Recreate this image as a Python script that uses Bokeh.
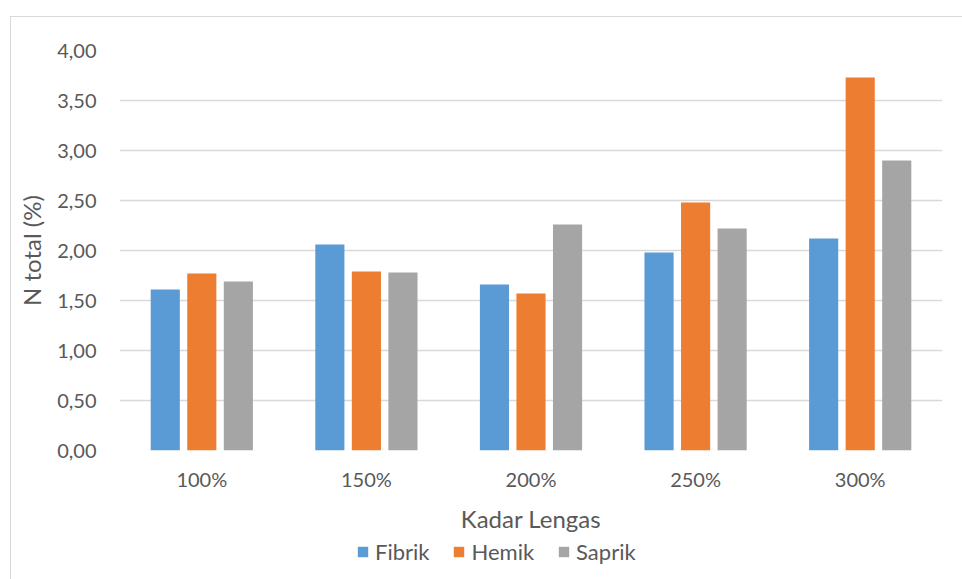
from bokeh.plotting import figure
from bokeh.layouts import column
from bokeh.models import (FactorRange, Range1d, FixedTicker, Legend, LegendItem,
                          ColumnDataSource)
from bokeh.transform import dodge
from bokeh.embed import file_html
from bokeh.resources import INLINE

# Moisture content levels (Kadar Lengas) and total N (%) per peat type
categories = ["100%", "150%", "200%", "250%", "300%"]
fibrik = [1.61, 2.06, 1.66, 1.98, 2.12]
hemik = [1.77, 1.79, 1.57, 2.48, 3.73]
saprik = [1.69, 1.78, 2.26, 2.22, 2.90]

y_ticks = [0.0, 0.5, 1.0, 1.5, 2.0, 2.5, 3.0, 3.5, 4.0]
y_tick_labels = ["0,00", "0,50", "1,00", "1,50", "2,00", "2,50", "3,00", "3,50", "4,00"]

FONT = "Lato"
TEXT = "#595959"
GRID = "#d9d9d9"

src = ColumnDataSource(dict(cat=categories, fibrik=fibrik, hemik=hemik, saprik=saprik))

p = figure(width=952, height=519, x_range=FactorRange(*categories, range_padding=0),
           y_range=Range1d(0, 4), output_backend="svg", toolbar_location=None,
           min_border_left=108, min_border_right=21, min_border_top=33,
           min_border_bottom=86)
p.outline_line_color = None
p.background_fill_color = "white"
p.border_fill_color = "white"

w = 0.177
off = 0.222
series = [("fibrik", "Fibrik", "#5b9bd5", -off),
          ("hemik", "Hemik", "#ed7d31", 0.0),
          ("saprik", "Saprik", "#a5a5a5", off)]
for col, name, color, dx in series:
    p.vbar(x=dodge("cat", dx, range=p.x_range), top=col, width=w, source=src,
           fill_color=color, line_color=None)

# y axis: gridlines only, comma decimals
p.yaxis.ticker = FixedTicker(ticks=y_ticks)
p.yaxis.major_label_overrides = {t: s for t, s in zip(y_ticks, y_tick_labels)}
p.yaxis.axis_line_color = None
p.yaxis.major_tick_line_color = None
p.yaxis.minor_tick_line_color = None
p.yaxis.major_label_text_font = FONT
p.yaxis.major_label_text_font_size = "20px"
p.yaxis.major_label_text_color = TEXT
p.yaxis.major_label_standoff = 17
p.yaxis.axis_label = "N total (%)"
p.yaxis.axis_label_text_font = FONT
p.yaxis.axis_label_text_font_size = "24px"
p.yaxis.axis_label_text_font_style = "normal"
p.yaxis.axis_label_text_color = TEXT
p.yaxis.axis_label_standoff = 8
p.ygrid.grid_line_color = GRID
p.ygrid.grid_line_width = 1.5
p.ygrid.ticker = FixedTicker(ticks=y_ticks)

# x axis
p.xaxis.axis_line_color = None
p.xaxis.major_tick_line_color = None
p.xaxis.minor_tick_line_color = None
p.xaxis.major_label_text_font = FONT
p.xaxis.major_label_text_font_size = "20px"
p.xaxis.major_label_text_color = TEXT
p.xaxis.major_label_standoff = 10
p.xaxis.axis_label = "Kadar Lengas"
p.xaxis.axis_label_text_font = FONT
p.xaxis.axis_label_text_font_size = "24px"
p.xaxis.axis_label_text_font_style = "normal"
p.xaxis.axis_label_text_color = TEXT
p.xaxis.axis_label_standoff = 10
p.xgrid.grid_line_color = None

# legend strip under the chart; its frame lines up with the chart frame above
lg = figure(width=952, height=43, output_backend="svg", toolbar_location=None,
            x_axis_type=None, y_axis_type=None, min_border=0,
            x_range=Range1d(0, 1), y_range=Range1d(0, 1))
lg.outline_line_color = None
lg.grid.grid_line_color = None
items = []
for col, name, color, dx in series:
    # swatch renderers kept outside the visible range
    r = lg.vbar(x=[5], top=[0], width=0.1, fill_color=color, line_color=None)
    items.append(LegendItem(label=name, renderers=[r]))
legend = Legend(items=items, orientation="horizontal", location=(237, 14),
                label_text_font=FONT, label_text_font_size="22px",
                label_text_color=TEXT, glyph_width=13, glyph_height=13,
                spacing=23, label_standoff=6, padding=0, margin=0,
                border_line_color=None, background_fill_alpha=0)
lg.add_layout(legend)

layout = column(p, lg, spacing=0)
layout.margin = (16, 0, 0, 10)
layout.styles = {"border-left": "1px solid #d9d9d9", "border-top": "1px solid #d9d9d9"}

open("out.html", "w").write(file_html(layout, INLINE))
